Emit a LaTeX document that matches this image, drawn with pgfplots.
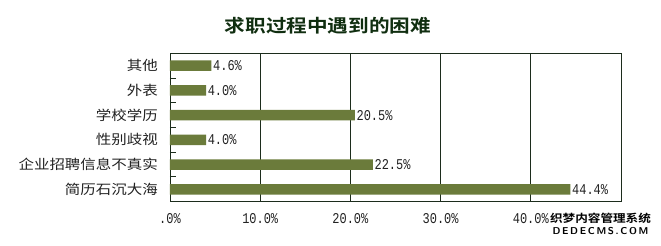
\documentclass[border=0pt]{standalone}
\usepackage{pgfplots}
\pgfplotsset{compat=1.18}
\usepackage{fontspec}
\newfontfamily\cjk[FakeStretch=1.15]{Noto Sans CJK SC}
\newfontfamily\cjkbold[FakeStretch=1.15]{Noto Sans CJK SC Bold}
\newfontfamily\numfont[FakeStretch=0.8]{Liberation Mono}
\definecolor{barolive}{HTML}{6B7B3B}
\definecolor{framegreen}{HTML}{1C2C1C}
\definecolor{titlegreen}{HTML}{102E10}
\definecolor{labeltext}{HTML}{222222}
\begin{document}
\begin{tikzpicture}
% page frame: 661 x 246
\path[fill=white] (-170bp,-44.3bp) rectangle (491bp,201.7bp);
\begin{axis}[
  at={(0,0)}, anchor=south west,
  scale only axis,
  width=451bp, height=148.4bp,
  xmin=0, xmax=50,
  ymin=-0.5, ymax=5.5,
  xbar, bar width=10.5bp,
  /pgf/number format/assume math mode=true,
  axis line style={framegreen, line width=0.8bp},
  xmajorgrids,
  major grid style={framegreen, line width=0.8bp},
  xtick={0,10,20,30,40,50},
  xticklabels={.0\%,10.0\%,20.0\%,30.0\%,40.0\%,},
  xtick style={draw=none},
  xticklabel style={font=\numfont\fontsize{15}{15}\selectfont, text=labeltext, inner sep=0pt, anchor=north, yshift=-12bp},
  % separators between the categories
  ytick pos=left,
  tick align=inside,
  ytick={0.5,1.5,2.5,3.5,4.5},
  yticklabels={},
  ytick style={draw=framegreen, line width=1bp},
  major tick length=6bp,
  nodes near coords={\pgfmathprintnumber[fixed, fixed zerofill, precision=1]{\pgfplotspointmeta}\%},
  nodes near coords style={font=\numfont\fontsize{15}{15}\selectfont, text=labeltext, anchor=west, inner sep=1.5bp},
  point meta=x,
  clip=false,
]
\addplot[fill=barolive, draw=none] coordinates {
  (44.4,0) (22.5,1) (4.0,2) (20.5,3) (4.0,4) (4.6,5)
};
% category names
\begin{scope}[every node/.style={font=\cjk\fontsize{13.5}{14}\selectfont, text=labeltext, inner sep=0pt, anchor=east, xshift=-12bp}]
\node at (axis cs:0,0) {简历石沉大海};
\node at (axis cs:0,1) {企业招聘信息不真实};
\node at (axis cs:0,2) {性别歧视};
\node at (axis cs:0,3) {学校学历};
\node at (axis cs:0,4) {外表};
\node at (axis cs:0,5) {其他};
\end{scope}
\end{axis}
% title
\node[font=\cjkbold\fontsize{18}{19}\selectfont, text=titlegreen] at (158bp,176.2bp) {求职过程中遇到的困难};
% site mark in the lower right corner
\node[font=\cjkbold\fontsize{11}{11}\selectfont, text=black, inner sep=0pt] at (430.5bp,-16.3bp) {织梦内容管理系统};
\node[font=\sffamily\bfseries\fontsize{10}{10}\selectfont, text=black, inner sep=0pt] at (430.5bp,-29.3bp) {D\,E\,D\,E\,C\,M\,S\,.\,C\,O\,M};
\end{tikzpicture}
\end{document}
